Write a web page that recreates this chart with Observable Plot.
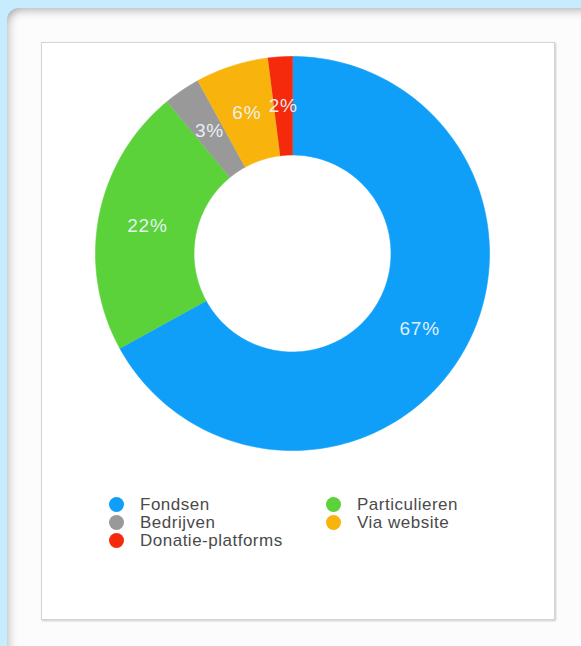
<!DOCTYPE html>
<html>
<head>
<meta charset="utf-8">
<script src="https://cdn.jsdelivr.net/npm/d3@7"></script>
<script src="https://cdn.jsdelivr.net/npm/@observablehq/plot@0.6"></script>
<style>
  html, body { margin: 0; padding: 0; }
  body { width: 581px; height: 646px; overflow: hidden; background: #c7ecfd; position: relative;
         font-family: "Liberation Sans", Arial, Helvetica, sans-serif; }
  .card { position: absolute; left: 7px; top: 8px; width: 620px; height: 700px; background: #fcfcfc;
          border-radius: 12px;
          box-shadow: inset 0 8px 10px -5px rgba(0,0,0,0.25), inset 8px 0 10px -5px rgba(0,0,0,0.18); }
  .box { position: absolute; left: 34px; top: 34px; width: 512px; height: 576px; background: #fff;
         border: 1px solid #d4d4d4; box-shadow: 1px 1px 2px rgba(0,0,0,0.2); }
  #chart { position: absolute; left: 0; top: 0; }
  #chart svg text { letter-spacing: 0.8px; }
  #legend { position: absolute; left: 0; top: 0; width: 512px; height: 576px; }
  .item { position: absolute; font-size: 17px; color: #4a4a4a; line-height: 18px; white-space: nowrap; letter-spacing: 0.5px; }
  .item .sw { position: absolute; left: -31px; top: 1px; width: 15px; height: 15px; border-radius: 50%; }
</style>
</head>
<body>
<div class="card">
  <div class="box">
    <div id="chart"></div>
    <div id="legend"></div>
  </div>
</div>
<script>
// Data
const categories = ["Fondsen", "Particulieren", "Bedrijven", "Via website", "Donatie-platforms"];
const values = [67, 22, 3, 6, 2];
const colors = ["#0f9ff8", "#5bd23a", "#999999", "#f8b40c", "#f5290b"];
const labels = ["67%", "22%", "3%", "6%", "2%"];
const legendOrder = ["Fondsen", "Particulieren", "Bedrijven", "Via website", "Donatie-platforms"];

const innerRatio = 0.5;

const slices = categories.map((name, i) => ({name, value: values[i], color: colors[i], label: labels[i]}));
const arcs = d3.pie().sort(null).value(d => d.value)(slices);

// Ring polygons (outer arc forward, inner arc back), in unit coordinates
const ringPts = [];
for (const a of arcs) {
  const n = Math.max(4, Math.ceil((a.endAngle - a.startAngle) / (Math.PI * 2) * 240));
  for (let k = 0; k <= n; k++) {
    const t = a.startAngle + (a.endAngle - a.startAngle) * k / n;
    ringPts.push({name: a.data.name, color: a.data.color, x: Math.sin(t), y: Math.cos(t)});
  }
  for (let k = n; k >= 0; k--) {
    const t = a.startAngle + (a.endAngle - a.startAngle) * k / n;
    ringPts.push({name: a.data.name, color: a.data.color, x: innerRatio * Math.sin(t), y: innerRatio * Math.cos(t)});
  }
}
const midR = (1 + innerRatio) / 2;
const labelPts = arcs.map(a => {
  const m = (a.startAngle + a.endAngle) / 2;
  return {label: a.data.label, x: midR * Math.sin(m), y: midR * Math.cos(m)};
});

const cx = 250, cy = 210, R = 197;
const chart = Plot.plot({
  width: 512,
  height: 430,
  margin: 0,
  x: {domain: [-1, 1], range: [cx - R, cx + R], axis: null},
  y: {domain: [-1, 1], range: [cy + R, cy - R], axis: null},
  color: {type: "identity"},
  style: {background: "transparent", overflow: "visible"},
  marks: [
    Plot.line(ringPts, {x: "x", y: "y", z: "name", fill: "color", stroke: "color", strokeWidth: 0.6, curve: "linear"}),
    Plot.text(labelPts, {x: "x", y: "y", text: "label", fill: "#eef5ff", fontSize: 19,
      fontFamily: "Liberation Sans, Arial, Helvetica, sans-serif", fillOpacity: 0.95})
  ]
});
document.getElementById("chart").appendChild(chart);

// Legend
const legend = document.getElementById("legend");
const colX = [98, 315];
const rowY = [453, 471, 489];
legendOrder.forEach((name, i) => {
  const idx = categories.indexOf(name);
  const el = document.createElement("div");
  el.className = "item";
  el.style.left = colX[i % 2] + "px";
  el.style.top = rowY[Math.floor(i / 2)] + "px";
  const sw = document.createElement("span");
  sw.className = "sw";
  sw.style.background = colors[idx];
  el.appendChild(sw);
  el.appendChild(document.createTextNode(name));
  legend.appendChild(el);
});
</script>
</body>
</html>
